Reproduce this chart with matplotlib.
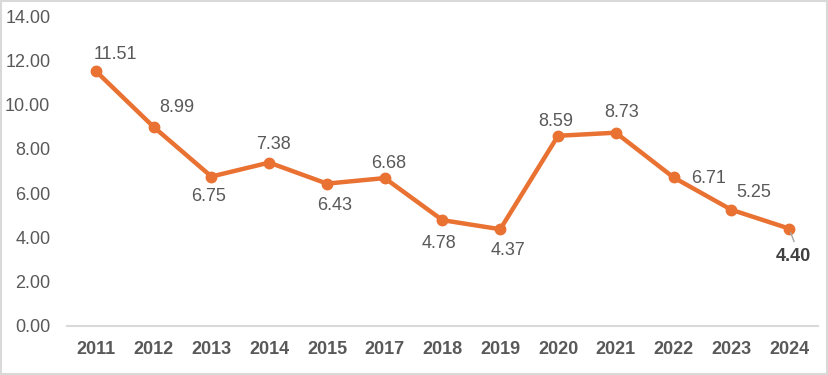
import matplotlib
matplotlib.use("Agg")
import matplotlib.pyplot as plt
from matplotlib.patches import Rectangle

years = ["2011", "2012", "2013", "2014", "2015", "2017", "2018",
         "2019", "2020", "2021", "2022", "2023", "2024"]
values = [11.51, 8.99, 6.75, 7.38, 6.43, 6.68, 4.78,
          4.37, 8.59, 8.73, 6.71, 5.25, 4.40]

# label offsets in pixels (dx, dy)
offsets = [(20, 17), (23, 19), (-3, -20), (4, 18), (8, -22), (4, 15), (-3, -23),
           (8, -21), (-2, 14), (6, 20), (35, -1), (22, 17), (4, -28)]

plt.rcParams['font.family'] = ['Liberation Sans', 'DejaVu Sans']
orange = '#E97132'
grey_txt = '#595959'

fig = plt.figure(figsize=(8.29, 3.75), dpi=100)
ax = fig.add_axes([0.0808, 0.1307, 0.9059, 0.8266])

x = list(range(len(years)))
ax.plot(x, values, color=orange, linewidth=3.2, marker='o', markersize=7.5,
        solid_capstyle='round', zorder=3)

for i, (v, (dx, dy)) in enumerate(zip(values, offsets)):
    last = i == len(values) - 1
    ax.annotate(f"{v:.2f}", (i, v), xytext=(dx, dy), textcoords='offset pixels',
                ha='center', va='center', fontsize=13, color=grey_txt if not last else '#404040',
                fontweight='bold' if last else 'normal')

# leader line for the last label
ax.annotate("", (x[-1], values[-1]), xytext=(5, -13), textcoords='offset pixels',
            arrowprops=dict(arrowstyle='-', color='#A6A6A6', lw=1, shrinkA=0, shrinkB=3))

ax.set_xlim(-0.5, len(years) - 0.5)
ax.set_ylim(0, 14)
ax.set_yticks(range(0, 15, 2))
ax.set_yticklabels([f"{t:.2f}" for t in range(0, 15, 2)])
ax.set_xticks(x)
ax.set_xticklabels(years, fontweight='bold')

for s in ['top', 'right', 'left']:
    ax.spines[s].set_visible(False)
ax.spines['bottom'].set_color('#D9D9D9')
ax.spines['bottom'].set_linewidth(1.5)
ax.tick_params(axis='both', length=0, labelsize=13, colors=grey_txt)
ax.tick_params(axis='y', pad=12)
ax.tick_params(axis='x', pad=11)

fig.patches.append(Rectangle((0.001, 0.002), 0.997, 0.995, transform=fig.transFigure,
                             fill=False, edgecolor='#D9D9D9', linewidth=1.5))

fig.savefig("out.png", dpi=100)
